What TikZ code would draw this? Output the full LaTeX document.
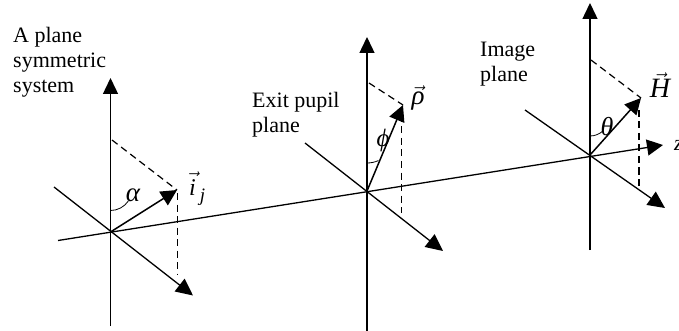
\documentclass[tikz,border=0pt]{standalone}
\usepackage{fontspec}
\setmainfont{Liberation Serif}
\usetikzlibrary{arrows.meta}
\tikzset{
  axis/.style={line width=1.3pt,black},
  vert/.style={line width=1.4pt,-{Triangle[length=16pt,width=15pt]}},
  arrowaxis/.style={axis,-{Triangle[length=17pt,width=16pt]}},
  vec/.style={line width=1.5pt,-{Triangle[length=16pt,width=16pt]}},
  proj/.style={line width=1.2pt,dash pattern=on 7pt off 4.5pt},
  anglearc/.style={line width=0.8pt},
  lab/.style={font=\fontsize{22}{25}\selectfont,align=left,anchor=north west,inner sep=0pt},
  sym/.style={inner sep=0pt,font=\fontsize{27}{27}\selectfont\itshape}
}
\begin{document}
\begin{tikzpicture}[x=1pt,y=-1pt]
\useasboundingbox (0,0) rectangle (679,331);
% origins
\coordinate (o1) at (110.5,232);
\coordinate (o2) at (367,191);
\coordinate (o3) at (590,155);
% optical axis
\coordinate (zs) at (58,240.5);
\coordinate (ze) at (663,145);
\draw[axis,-{Triangle[length=16pt,width=16pt]}] (zs) -- (ze);
% plane 1
\coordinate (t1) at (110.5,78); \coordinate (b1) at (110.5,326);
\coordinate (l1) at (54,187); \coordinate (r1) at (193,295.5);
\coordinate (v1) at (177,190);
\draw[vert] (b1) -- (t1);
\draw[arrowaxis] (l1) -- (r1);
\draw[vec] (o1) -- (v1);
\coordinate (d1a) at (112,140); \coordinate (d1b) at (177.5,193); \coordinate (d1c) at (177.5,275);
\draw[proj] (d1a) -- (v1);
\draw[proj] (d1b) -- (d1c);
\draw[anglearc] (110.5,210.5) arc[start angle=90,end angle=34,radius=21.5];
% plane 2
\coordinate (t2) at (367,37); \coordinate (b2) at (367,331);
\coordinate (l2) at (305,143); \coordinate (r2) at (443,251);
\coordinate (v2) at (403,105);
\draw[vert] (b2) -- (t2);
\draw[arrowaxis] (l2) -- (r2);
\draw[vec] (o2) -- (v2);
\coordinate (d2a) at (369,83); \coordinate (d2b) at (401.5,115); \coordinate (d2c) at (401.5,213);
\draw[proj] (d2a) -- (v2);
\draw[proj] (d2b) -- (d2c);
\draw[anglearc] (367,163) arc[start angle=90,end angle=66,radius=28];
% plane 3
\coordinate (t3) at (590,3); \coordinate (b3) at (590,250);
\coordinate (l3) at (525,110); \coordinate (r3) at (665,208);
\coordinate (v3) at (641,98);
\draw[vert] (b3) -- (t3);
\draw[arrowaxis] (l3) -- (r3);
\draw[vec] (o3) -- (v3);
\coordinate (d3a) at (591,60); \coordinate (d3b) at (639,110); \coordinate (d3c) at (639,188);
\draw[proj] (d3a) -- (v3);
\draw[proj] (d3b) -- (d3c);
\draw[anglearc] (590,136) arc[start angle=90,end angle=48,radius=19];
% labels
\node[lab] (n1) at (13,27) {A plane\\symmetric\\system};
\node[lab] (n2) at (252,92) {Exit pupil\\plane};
\node[lab] (n3) at (480,42) {Image\\plane};
\node[sym] (a) at (133,195) {α};
\node[sym,font=\fontsize{24}{24}\selectfont\itshape,anchor=base west] (i) at (189,195) {$\vec{\mbox{\itshape i}}$\,\raisebox{-6pt}{\fontsize{19}{19}\selectfont j}};
\node[sym,font=\fontsize{25}{25}\selectfont\itshape] (p) at (383,140) {ϕ};
\node[sym] (r) at (418,98) {$\vec{\mbox{\itshape ρ}}$};
\node[sym,font=\fontsize{26}{26}\selectfont\itshape] (th) at (607,127) {θ};
\node[sym,font=\fontsize{28}{28}\selectfont\itshape] (H) at (660,85) {$\vec{\mbox{\itshape H}}$};
\node[sym,font=\fontsize{22}{22}\selectfont\itshape] (z) at (678.5,145) {z};
\end{tikzpicture}
\end{document}
